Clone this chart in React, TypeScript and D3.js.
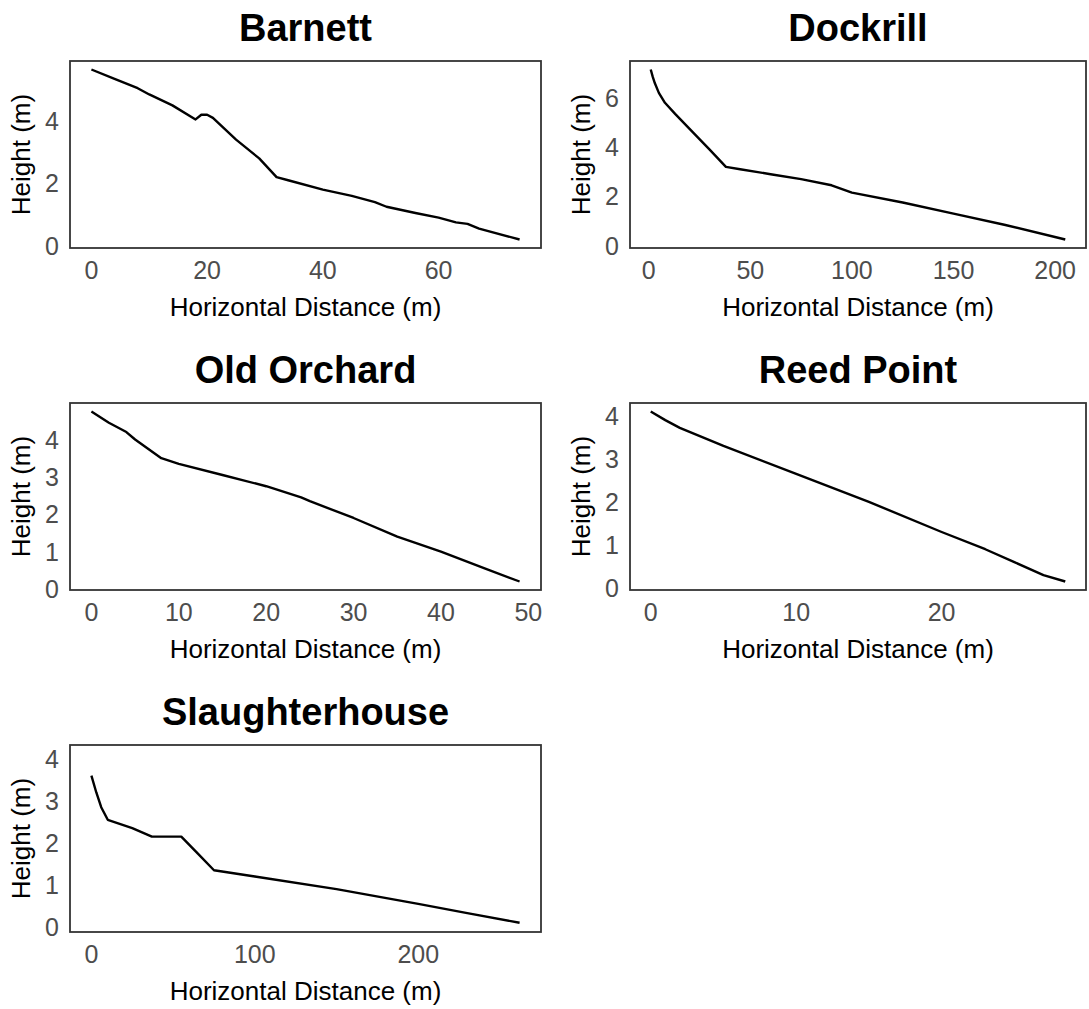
import * as d3 from "d3";

type Pt = [number, number];

const siteNames = ["Barnett", "Dockrill", "Old Orchard", "Reed Point", "Slaughterhouse"];

const barnett: Pt[] = [
  [0, 5.65], [4, 5.35], [8, 5.05], [10, 4.85], [14, 4.5], [18, 4.05], [19, 4.2], [20, 4.2],
  [21, 4.1], [25, 3.4], [29, 2.8], [32, 2.2], [34, 2.1], [40, 1.8], [45, 1.6], [49, 1.4],
  [51, 1.25], [56, 1.05], [60, 0.9], [63, 0.75], [65, 0.7], [67, 0.55], [74, 0.2],
];
const dockrill: Pt[] = [
  [1, 7.15], [2, 6.85], [3, 6.6], [5, 6.2], [8, 5.8], [13, 5.35], [20, 4.75], [30, 3.9],
  [38, 3.2], [45, 3.1], [60, 2.9], [75, 2.7], [90, 2.45], [100, 2.15], [125, 1.75],
  [150, 1.3], [175, 0.85], [205, 0.25],
];
const oldOrchard: Pt[] = [
  [0, 4.75], [2, 4.45], [4, 4.2], [5, 4.0], [8, 3.5], [10, 3.35], [15, 3.05], [20, 2.75],
  [24, 2.45], [25, 2.35], [30, 1.9], [35, 1.4], [40, 1.0], [45, 0.55], [49, 0.2],
];
const reedPoint: Pt[] = [
  [0, 4.1], [1, 3.9], [2, 3.72], [5, 3.3], [10, 2.65], [15, 2.0], [20, 1.3], [23, 0.9],
  [25, 0.6], [27, 0.3], [28.5, 0.15],
];
const slaughterhouse: Pt[] = [
  [0, 3.6], [3, 3.2], [6, 2.85], [10, 2.55], [25, 2.35], [37, 2.15], [55, 2.15], [65, 1.75],
  [75, 1.35], [100, 1.2], [150, 0.9], [200, 0.55], [230, 0.33], [262, 0.1],
];

const siteData = [barnett, dockrill, oldOrchard, reedPoint, slaughterhouse];
const xTickValues = [[0, 20, 40, 60], [0, 50, 100, 150, 200], [0, 10, 20, 30, 40, 50], [0, 10, 20], [0, 100, 200]];
const yTickValues = [[0, 2, 4], [0, 2, 4, 6], [0, 1, 2, 3, 4], [0, 1, 2, 3, 4], [0, 1, 2, 3, 4]];
// slaughterhouse panel reaches above its data range
const yLimitOverride: (Pt | null)[] = [null, null, null, null, [-0.12, 4.33]];

const panelLeft = [70, 630];
const panelTop = [61, 403, 745];
const panelW = [471, 456];
const panelH = 187;

function expand(ext: [number, number]): [number, number] {
  const r = ext[1] - ext[0];
  return [ext[0] - r * 0.05, ext[1] + r * 0.05];
}

function Panel({ i }: { i: number }) {
  const col = i % 2;
  const row = Math.floor(i / 2);
  const x0 = panelLeft[col];
  const y0 = panelTop[row];
  const w = panelW[col];
  const data = siteData[i];
  const x = d3.scaleLinear()
    .domain(expand(d3.extent(data, (d) => d[0]) as [number, number]))
    .range([x0, x0 + w]);
  const y = d3.scaleLinear()
    .domain(yLimitOverride[i] ?? expand(d3.extent(data, (d) => d[1]) as [number, number]))
    .range([y0 + panelH, y0]);
  const line = d3.line<Pt>().x((d) => x(d[0])).y((d) => y(d[1]));
  const font = "Liberation Sans, Arial, sans-serif";
  return (
    <g fontFamily={font}>
      <text x={x0 + w / 2} y={y0 - 20} textAnchor="middle" fontSize={38} fontWeight="bold">
        {siteNames[i]}
      </text>
      <path d={line(data) ?? ""} fill="none" stroke="#000" strokeWidth={2.4} strokeLinejoin="round" />
      <rect x={x0} y={y0} width={w} height={panelH} fill="none" stroke="#333" strokeWidth={1.8} />
      {xTickValues[i].map((t) => (
        <text key={t} x={x(t)} y={y0 + panelH + 31} textAnchor="middle" fontSize={25} fill="#4d4d4d">
          {t}
        </text>
      ))}
      {yTickValues[i].map((t) => (
        <text key={t} x={x0 - 11} y={y(t) + 9} textAnchor="end" fontSize={25} fill="#4d4d4d">
          {t}
        </text>
      ))}
      <text x={x0 + w / 2} y={y0 + panelH + 68} textAnchor="middle" fontSize={26}>
        Horizontal Distance (m)
      </text>
      <text
        transform={`translate(${x0 - 40}, ${y0 + panelH / 2}) rotate(-90)`}
        textAnchor="middle"
        fontSize={26}
      >
        Height (m)
      </text>
    </g>
  );
}

export default function App() {
  return (
    <svg width={1089} height={1009} style={{ position: "absolute", left: 0, top: 0, background: "#fff" }}>
      {siteNames.map((_, i) => (
        <Panel key={i} i={i} />
      ))}
    </svg>
  );
}
